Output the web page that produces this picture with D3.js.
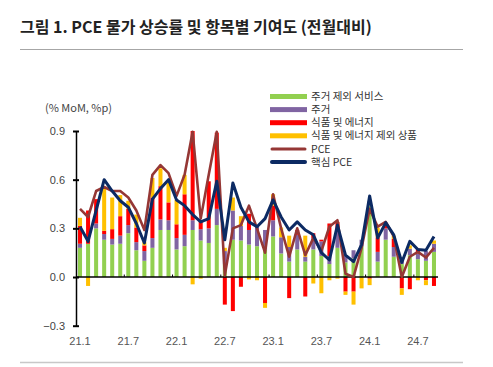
<!DOCTYPE html>
<html>
<head>
<meta charset="utf-8">
<script src="https://cdn.jsdelivr.net/npm/d3@7"></script>
<style>
  body { margin: 0; background: #fff; }
  text { font-family: "Noto Sans CJK KR", "Noto Sans", sans-serif; }
</style>
</head>
<body>
<div id="chart"></div>
<script>
// months 21.1 .. 24.9
const months = []
for (let yr = 21; yr <= 24; yr++) {
    for (let m = 1; m <= 12; m++) {
        if (yr == 24 && m > 9) break
        months.push(yr + "." + m)
    }
}
const xTickLabels = ["21.1", "21.7", "22.1", "22.7", "23.1", "23.7", "24.1", "24.7"]
const yTicks = [0.9, 0.6, 0.3, 0.0, -0.3]

// contributions (%p)
const servicesExHousing = [0.18, 0.205, 0.30, 0.23, 0.20, 0.205, 0.27, 0.165, 0.10, 0.18, 0.29, 0.29,
    0.17, 0.19, 0.29, 0.225, 0.21, 0.32, 0.08, 0.23, 0.225, 0.20, 0.19, 0.17,
    0.25, 0.145, 0.095, 0.17, 0.095, 0.17, 0.13, 0.08, 0.18, 0.09, 0.115, 0.19,
    0.44, 0.095, 0.23, 0.125, 0.08, 0.135, 0.11, 0.10, 0.155]
const housing = [0.025, 0.0, 0.03, 0.035, 0.035, 0.05, 0.05, 0.05, 0.06, 0.06, 0.065, 0.06,
    0.07, 0.07, 0.06, 0.07, 0.09, 0.10, 0.08, 0.18, 0.09, 0.09, 0.12, 0.12,
    0.10, 0.10, 0.09, 0.09, 0.03, 0.07, 0.09, 0.05, 0.10, 0.04, 0.05, 0.04,
    0.03, 0.06, 0.07, 0.06, 0.04, 0.04, 0.035, 0.06, 0.05]
const foodEnergy = [0.11, 0.205, 0.15, 0.02, 0.06, 0.12, 0.10, 0.09, 0.035, 0.25, 0.205, 0.11,
    0.085, 0.25, 0.55, 0.05, 0.29, 0.47, -0.17, -0.21, -0.06, 0.10, 0.0, -0.16,
    0.09, 0.0, -0.13, 0.03, -0.12, 0.03, 0.01, 0.20, 0.06, -0.09, -0.09, 0.0,
    -0.01, 0.09, 0.02, 0.05, -0.07, -0.075, 0.03, -0.02, -0.055]
const coreGoods = [0.05, -0.055, 0.0, 0.27, 0.195, 0.13, 0.05, 0.08, 0.02, 0.12, 0.11, 0.12,
    0.15, 0.12, -0.045, -0.01, 0.0, 0.0, 0.02, 0.08, 0.06, -0.015, -0.02, -0.03,
    0.07, 0.06, 0.07, 0.0, 0.13, -0.04, -0.10, -0.02, -0.01, -0.02, -0.08, -0.07,
    -0.04, 0.06, 0.0, 0.02, -0.04, 0.02, -0.02, -0.03, 0.02]

// lines (% MoM)
const pce = [0.42, 0.37, 0.53, 0.555, 0.53, 0.53, 0.49, 0.41, 0.29, 0.63, 0.69, 0.64,
    0.50, 0.63, 0.895, 0.36, 0.63, 0.895, 0.01, 0.30, 0.32, 0.44, 0.30, 0.15,
    0.51, 0.30, 0.125, 0.30, 0.135, 0.24, 0.16, 0.31, 0.35, 0.02, 0.0, 0.18,
    0.42, 0.31, 0.34, 0.25, 0.0, 0.125, 0.155, 0.12, 0.18]
const corePce = [0.31, 0.22, 0.41, 0.60, 0.53, 0.47, 0.43, 0.33, 0.21, 0.48, 0.545, 0.60,
    0.475, 0.44, 0.385, 0.34, 0.36, 0.59, 0.23, 0.58, 0.43, 0.34, 0.31, 0.36,
    0.475, 0.37, 0.29, 0.34, 0.29, 0.26, 0.15, 0.105, 0.32, 0.135, 0.095, 0.20,
    0.50, 0.24, 0.335, 0.26, 0.09, 0.22, 0.17, 0.165, 0.25]

const seriesKeys = ["g", "p", "r", "y"]
const seriesNames = ["주거 제외 서비스", "주거", "식품 및 에너지", "식품 및 에너지 제외 상품"]
const seriesColors = ["#92d050", "#8064a2", "#ff0000", "#ffc000"]

function drawChart() {

    // 1. data table for the stack
    const table = months.map((m, i) => ({
        month: m,
        g: servicesExHousing[i],
        p: housing[i],
        r: foodEnergy[i],
        y: coreGoods[i]
    }))

    // 2. dimensions
    const width = 493
    const height = 367

    const svg = d3.select("#chart")
        .append("svg")
        .attr("width", width)
        .attr("height", height)

    // title + rules
    svg.append("text")
        .attr("x", 20)
        .attr("y", 33)
        .attr("font-size", 16)
        .attr("font-weight", "bold")
        .attr("fill", "#222")
        .text("그림 1. PCE 물가 상승률 및 항목별 기여도 (전월대비)")

    svg.append("line")
        .attr("x1", 20).attr("x2", 463)
        .attr("y1", 49.5).attr("y2", 49.5)
        .attr("stroke", "#a6a6a6")

    svg.append("line")
        .attr("x1", 20).attr("x2", 463)
        .attr("y1", 362.5).attr("y2", 362.5)
        .attr("stroke", "#c8c8c8")
        .attr("stroke-width", 1.5)

    // 3. scales
    const xScale = d3.scaleBand()
        .domain(months)
        .range([76, 438])
        .paddingInner(0.5)
        .paddingOuter(0.25)

    const yScale = d3.scaleLinear()
        .domain([-0.3, 0.9])
        .range([325.7, 131])

    const xCenter = d => xScale(d) + xScale.bandwidth() / 2

    // 4. bars
    const stacked = d3.stack()
        .keys(seriesKeys)
        .offset(d3.stackOffsetDiverging)(table)

    svg.append("g")
        .selectAll("g")
        .data(stacked)
        .join("g")
            .attr("fill", (d, i) => seriesColors[i])
        .selectAll("rect")
        .data(d => d)
        .join("rect")
            .attr("x", d => xScale(d.data.month))
            .attr("width", xScale.bandwidth())
            .attr("y", d => yScale(Math.max(d[0], d[1])))
            .attr("height", d => Math.abs(yScale(d[0]) - yScale(d[1])))

    // 5. axes
    const yAxis = svg.append("g")
        .attr("transform", "translate(76,0)")
        .call(d3.axisLeft(yScale)
            .tickValues(yTicks)
            .tickFormat(d3.format(".1f"))
            .tickSize(0)
            .tickPadding(11))
    yAxis.select(".domain")
        .attr("stroke", "#000")
        .attr("stroke-width", 1.5)
    yAxis.selectAll(".tick line")
        .attr("x1", -3).attr("x2", 3)
        .attr("stroke", "#000")
        .attr("stroke-width", 2)
    yAxis.selectAll(".tick text")
        .attr("font-size", 11)
        .attr("fill", "#444")
        .style("font-family", "'Liberation Sans', sans-serif")

    // zero line
    svg.append("line")
        .attr("x1", 76).attr("x2", 438)
        .attr("y1", yScale(0)).attr("y2", yScale(0))
        .attr("stroke", "#000")
        .attr("stroke-width", 1.5)

    // small ticks every 6 months on the zero line
    const gap = xScale.step() - xScale.bandwidth()
    svg.append("g")
        .selectAll("line")
        .data(xTickLabels.slice(1))
        .join("line")
            .attr("x1", d => xScale(d) - gap / 2)
            .attr("x2", d => xScale(d) - gap / 2)
            .attr("y1", yScale(0))
            .attr("y2", yScale(0) - 2.5)
            .attr("stroke", "#000")
            .attr("stroke-width", 1)

    const xAxis = svg.append("g")
        .attr("transform", "translate(0,326)")
        .call(d3.axisBottom(xScale)
            .tickValues(xTickLabels)
            .tickSize(0)
            .tickPadding(11))
    xAxis.select(".domain").remove()
    xAxis.selectAll(".tick text")
        .attr("font-size", 11)
        .attr("fill", "#555")
        .style("font-family", "'Liberation Sans', sans-serif")

    svg.append("text")
        .attr("x", 45)
        .attr("y", 112)
        .attr("font-size", 11)
        .attr("fill", "#444")
        .text("(% MoM, %p)")

    // 6. lines
    const lineGenerator = v => d3.line()
        .x((d, i) => xCenter(months[i]))
        .y(d => yScale(d))(v)

    svg.append("path")
        .attr("d", lineGenerator(pce))
        .attr("fill", "none")
        .attr("stroke", "#953735")
        .attr("stroke-width", 2.6)
        .attr("stroke-linejoin", "round")

    svg.append("path")
        .attr("d", lineGenerator(corePce))
        .attr("fill", "none")
        .attr("stroke", "#0c2a63")
        .attr("stroke-width", 3)
        .attr("stroke-linejoin", "round")

    // 7. legend
    const legend = svg.append("g").attr("transform", "translate(270,96.5)")
    const rowH = 13.1

    seriesNames.forEach((name, i) => {
        legend.append("rect")
            .attr("x", 0).attr("y", i * rowH - 2.5)
            .attr("width", 37).attr("height", 5)
            .attr("fill", seriesColors[i])
        legend.append("text")
            .attr("x", 41).attr("y", i * rowH)
            .attr("dy", "0.35em")
            .attr("font-size", 10.5)
            .attr("fill", "#333")
            .text(name)
    })

    const lineItems = [
        {name: "PCE", color: "#953735", w: 3},
        {name: "핵심 PCE", color: "#0c2a63", w: 4}
    ]
    lineItems.forEach((item, j) => {
        const yy = (4 + j) * rowH
        legend.append("line")
            .attr("x1", 2).attr("x2", 35)
            .attr("y1", yy).attr("y2", yy)
            .attr("stroke", item.color)
            .attr("stroke-width", item.w)
            .attr("stroke-linecap", "round")
        legend.append("text")
            .attr("x", 41).attr("y", yy)
            .attr("dy", "0.35em")
            .attr("font-size", 10.5)
            .attr("fill", "#333")
            .text(item.name)
    })
}

drawChart()
</script>
</body>
</html>
